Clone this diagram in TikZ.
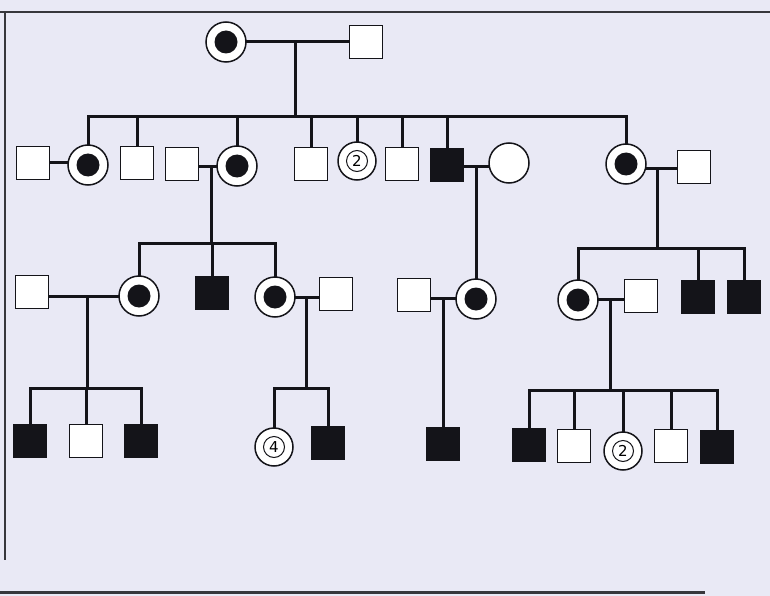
\documentclass[tikz,border=0pt]{standalone}
\usepackage{fontspec}
\setmainfont{DejaVu Sans}
\definecolor{paper}{RGB}{233,233,245}
\definecolor{ink}{RGB}{20,20,25}
\pgfdeclarelayer{paperlayer}
\pgfdeclarelayer{background}
\pgfsetlayers{paperlayer,background,main}
\begin{document}
\begin{tikzpicture}[x=1pt,y=-1pt,
  every node/.style={inner sep=0pt, outer sep=0pt},
  sq/.style={draw=ink, line width=1.5pt, minimum size=33pt, fill=white},
  fsq/.style={draw=ink, line width=1.5pt, minimum size=33pt, fill=ink},
  circ/.style={draw=ink, line width=1.5pt, circle, minimum size=40pt, fill=white},
  cdot/.style={circ, path picture={\fill[ink] (path picture bounding box.center) circle (11.5pt);}},
  numc/.style={draw=ink, line width=1.5pt, circle, minimum size=38pt, fill=white,
     path picture={\draw[ink, line width=1pt] (path picture bounding box.center) circle (10.5pt);},
     font=\fontsize{15}{15}\selectfont},
  link/.style={draw=ink, line width=3pt},
  frameline/.style={draw=ink!85, line width=2.6pt}
]
\begin{pgfonlayer}{paperlayer}
\fill[paper] (0,0) rectangle (770,596);
\end{pgfonlayer}
\useasboundingbox (0,0) rectangle (770,596);
% frame
\draw[frameline] (0,12) -- (770,12);
\draw[frameline, line width=2pt] (5,12) -- (5,560);
\draw[frameline, line width=3pt] (0,592) -- (705,592);

% couple / sibship points
\coordinate (m0) at (295,42);
\coordinate (s0) at (295,117);
\coordinate (m1) at (211,167);
\coordinate (s1) at (211,243);
\coordinate (m2) at (476,167);
\coordinate (m3) at (657,169);
\coordinate (s3) at (657,248);
\coordinate (m4) at (87,296);
\coordinate (s4) at (87,388);
\coordinate (m5) at (306,297);
\coordinate (s5) at (306,388);
\coordinate (m6) at (443,298);
\coordinate (m7) at (610,299);
\coordinate (s7) at (610,390);

% Nodes
\node[cdot] (A) at (226,42) {};
\node[sq] (B) at (366,42) {};

\node[sq]   (g2a) at (33,163) {};
\node[cdot] (g2b) at (88,165) {};
\node[sq]   (g2c) at (137,163) {};
\node[sq]   (g2d) at (182,164) {};
\node[cdot] (g2e) at (237,166) {};
\node[sq]   (g2f) at (311,164) {};
\node[numc] (g2g) at (357,161) {2};
\node[sq]   (g2h) at (402,164) {};
\node[fsq]  (g2i) at (447,165) {};
\node[circ] (g2j) at (509,163) {};
\node[cdot] (g2k) at (626,164) {};
\node[sq]   (g2l) at (694,167) {};

\node[sq]   (g3a) at (32,292) {};
\node[cdot] (g3b) at (139,296) {};
\node[fsq]  (g3c) at (212,293) {};
\node[cdot] (g3d) at (275,297) {};
\node[sq]   (g3e) at (336,294) {};
\node[sq]   (g3f) at (414,295) {};
\node[cdot] (g3g) at (476,299) {};
\node[cdot] (g3h) at (578,300) {};
\node[sq]   (g3i) at (641,296) {};
\node[fsq]  (g3j) at (698,297) {};
\node[fsq]  (g3k) at (744,297) {};

\node[fsq]  (g4a) at (30,441) {};
\node[sq]   (g4b) at (86,441) {};
\node[fsq]  (g4c) at (141,441) {};
\node[numc] (g4d) at (274,447) {4};
\node[fsq]  (g4e) at (328,443) {};
\node[fsq]  (g4f) at (443,444) {};
\node[fsq]  (g4g) at (529,445) {};
\node[sq]   (g4h) at (574,446) {};
\node[numc] (g4i) at (623,451) {2};
\node[sq]   (g4j) at (671,446) {};
\node[fsq]  (g4k) at (717,447) {};

% ---------------- connectors (behind the symbols)
\begin{pgfonlayer}{background}
\draw[link] (A.center) -- (B.center);
\draw[link] (m0) -- (s0);
\foreach \c in {g2b,g2c,g2e,g2f,g2g,g2h,g2i,g2k}
  \draw[link] (\c.center) |- (s0);

\draw[link] (g2a.center) -- (g2a.center -| g2b.center);
\draw[link] (g2d.center |- m1) -- (g2e.center |- m1);
\draw[link] (m1) -- (s1);
\foreach \c in {g3b,g3c,g3d}
  \draw[link] (\c.center) |- (s1);
\draw[link] (g2i.center |- m2) -- (g2j.center |- m2);
\draw[link] (m2) -- (g3g.center);
\draw[link] (g2k.center |- m3) -- (g2l.center |- m3);
\draw[link] (m3) -- (s3);
\foreach \c in {g3h,g3j,g3k}
  \draw[link] (\c.center) |- (s3);

\draw[link] (g3a.center |- m4) -- (g3b.center |- m4);
\draw[link] (m4) -- (s4);
\foreach \c in {g4a,g4b,g4c}
  \draw[link] (\c.center) |- (s4);
\draw[link] (g3d.center |- m5) -- (g3e.center |- m5);
\draw[link] (m5) -- (s5);
\foreach \c in {g4d,g4e}
  \draw[link] (\c.center) |- (s5);
\draw[link] (g3f.center |- m6) -- (g3g.center |- m6);
\draw[link] (m6) -- (g4f.center);
\draw[link] (g3h.center |- m7) -- (g3i.center |- m7);
\draw[link] (m7) -- (s7);
\foreach \c in {g4g,g4h,g4i,g4j,g4k}
  \draw[link] (\c.center) |- (s7);
\end{pgfonlayer}
\end{tikzpicture}
\end{document}
